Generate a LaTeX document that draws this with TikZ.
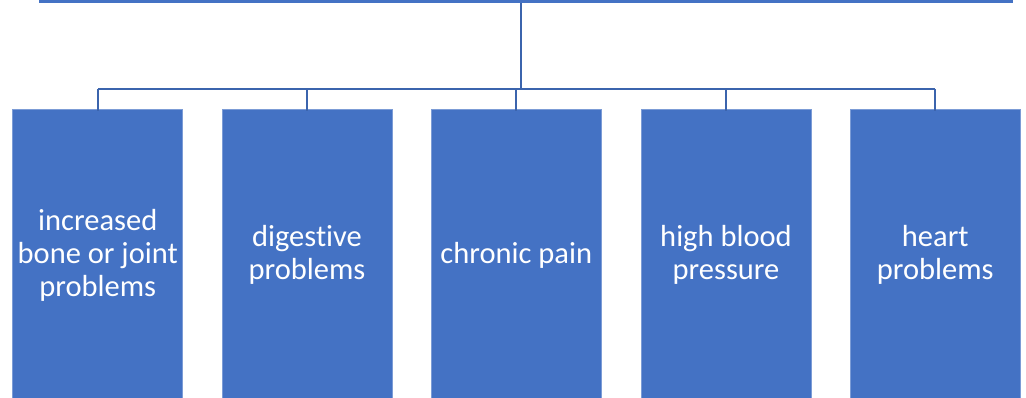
\documentclass[tikz,border=0pt]{standalone}
\usepackage{fontspec}
\setmainfont[Ligatures=NoCommon]{Carlito}
\definecolor{boxblue}{HTML}{4472C4}
\definecolor{lineblue}{HTML}{3B64AD}
\begin{document}
\begin{tikzpicture}[x=1pt,y=-1pt,
  card/.style={fill=boxblue, draw=boxblue!70!white, line width=0.6pt, minimum width=170pt, minimum height=300pt, anchor=north, inner sep=0pt},
  lbl/.style={text=white, align=center, font=\fontsize{30.5}{33}\selectfont},
  conn/.style={draw=lineblue, line width=2pt}]
\useasboundingbox (0,0) rectangle (1026,398);
\fill[boxblue] (39,-5) rectangle (1013,3);
\coordinate (top) at (521,3);
\coordinate (hub) at (521,89);
\foreach \i/\x in {1/97.75,2/307,3/516.3,4/726,5/935.3}{
  \node[card] (b\i) at (\x,109) {};
}
\node[lbl] at (97.75,255) {increased\\bone or joint\\problems};
\node[lbl] at (307,255) {digestive\\problems};
\node[lbl] at (516.3,255) {chronic pain};
\node[lbl] at (726,255) {high blood\\pressure};
\node[lbl] at (935.3,255) {heart\\problems};
\draw[conn] (top) -- (hub);
\draw[conn] (b1.north |- hub) -- (b5.north |- hub);
\foreach \i in {1,...,5}{
  \draw[conn] (b\i.north |- hub) -- ([yshift=-2pt]b\i.north);
}
\end{tikzpicture}
\end{document}
